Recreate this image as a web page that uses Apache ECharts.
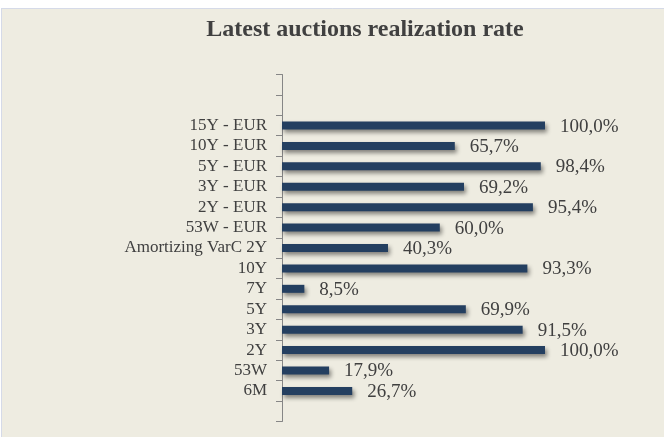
<!DOCTYPE html>
<html>
<head>
<meta charset="utf-8">
<script src="https://cdn.jsdelivr.net/npm/echarts@6/dist/echarts.min.js"></script>
<style>
  html, body { margin: 0; padding: 0; background: #ffffff; }
  #chart { width: 664px; height: 437px; }
</style>
</head>
<body>
<div id="chart"></div>
<script>
// Data (top to bottom as shown)
const categories = ['15Y - EUR', '10Y - EUR', '5Y - EUR', '3Y - EUR', '2Y - EUR', '53W - EUR',
  'Amortizing VarC 2Y', '10Y', '7Y', '5Y', '3Y', '2Y', '53W', '6M'];
const rates = [100.0, 65.7, 98.4, 69.2, 95.4, 60.0, 40.3, 93.3, 8.5, 69.9, 91.5, 100.0, 17.9, 26.7];
const titleText = 'Latest auctions realization rate';

// empty slots on the category axis (2 above, 1 below)
const padTop = 2, padBottom = 1;
const axisCats = Array(padTop).fill('').concat(categories, Array(padBottom).fill(''));
const axisVals = Array(padTop).fill(null).concat(rates, Array(padBottom).fill(null));

const serif = '"Liberation Serif", "Times New Roman", serif';
const chart = echarts.init(document.getElementById('chart'), null, { renderer: 'canvas' });
chart.setOption({
  backgroundColor: '#eeece1',
  animation: false,
  graphic: [
    { type: 'rect', shape: { x: 0, y: 0, width: 664, height: 8 }, style: { fill: '#ffffff' }, z: 100 },
    { type: 'rect', shape: { x: 0, y: 0, width: 1, height: 437 }, style: { fill: '#ffffff' }, z: 100 },
    { type: 'line', shape: { x1: 1, y1: 8.5, x2: 664, y2: 8.5 }, style: { stroke: '#d5dae8', lineWidth: 1 }, z: 100 },
    { type: 'line', shape: { x1: 1.5, y1: 8, x2: 1.5, y2: 437 }, style: { stroke: '#d5dae8', lineWidth: 1 }, z: 100 }
  ],
  title: {
    text: titleText,
    left: 360,
    top: 13,
    textAlign: 'center',
    textStyle: { fontFamily: serif, fontWeight: 'bold', fontSize: 24, color: '#404040' }
  },
  grid: { left: 282, width: 263, top: 74.5, height: 347, containLabel: false },
  xAxis: {
    type: 'value', min: 0, max: 100, show: false,
    splitLine: { show: false }
  },
  yAxis: {
    type: 'category',
    inverse: true,
    data: axisCats,
    axisLine: { show: true, lineStyle: { color: '#868686', width: 1 } },
    axisTick: { show: true, interval: 0, length: 6, lineStyle: { color: '#868686' } },
    axisLabel: { interval: 0, margin: 15, fontFamily: serif, fontSize: 17, color: '#404040' }
  },
  series: [{
    type: 'bar',
    data: axisVals,
    barWidth: 8,
    itemStyle: {
      color: '#243f60',
      shadowColor: 'rgba(0,0,0,0.45)',
      shadowBlur: 4,
      shadowOffsetX: 2,
      shadowOffsetY: 3
    },
    label: {
      show: true,
      position: 'right',
      distance: 15,
      offset: [0, 1],
      fontFamily: serif,
      fontSize: 19,
      color: '#404040',
      formatter: p => p.value == null ? '' : p.value.toFixed(1).replace('.', ',') + '%'
    }
  }]
});
</script>
</body>
</html>
